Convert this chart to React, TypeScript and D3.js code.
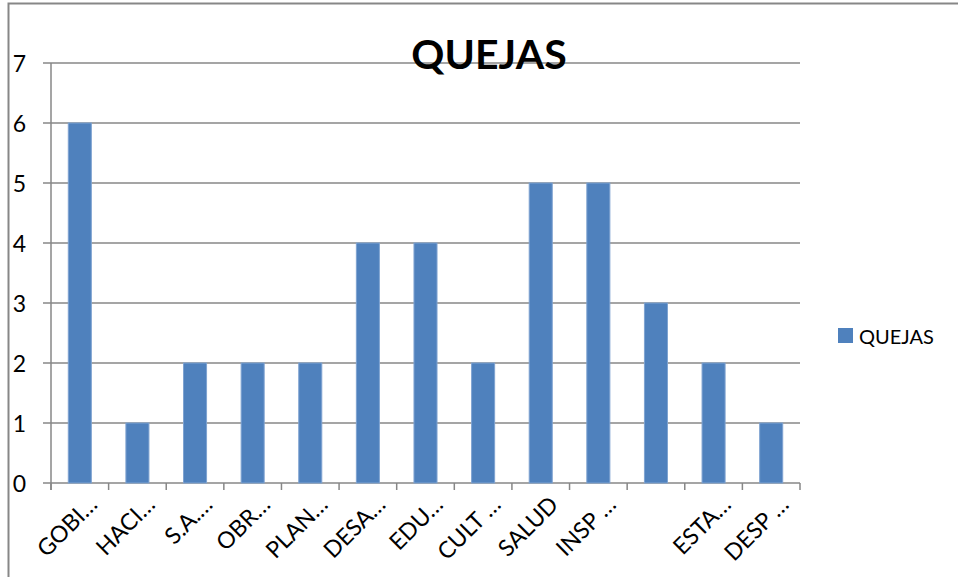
import React from "react";
import * as d3 from "d3";

const categories = ["GOBI…", "HACI…", "S.A.…", "OBR…", "PLAN…", "DESA…", "EDU…", "CULT …", "SALUD", "INSP …", "", "ESTA…", "DESP …"];
const values = [6, 1, 2, 2, 2, 4, 4, 2, 5, 5, 3, 2, 1];
const yTicks = [0, 1, 2, 3, 4, 5, 6, 7];
const seriesName = "QUEJAS";
const title = "QUEJAS";

const W = 958, H = 577;
const plot = { left: 51, right: 800, top: 63, bottom: 483 };
const FONT = "Lato, 'Open Sans', sans-serif";
const GRID = "#878787";
const BAR = "#4f81bd";

export default function App() {
  const x = d3.scaleBand<number>().domain(d3.range(categories.length)).range([plot.left, plot.right]).paddingInner(0.6).paddingOuter(0.3);
  const step = (plot.right - plot.left) / categories.length;
  const y = d3.scaleLinear().domain([0, 7]).range([plot.bottom, plot.top]);

  return (
    <svg width={W} height={H} style={{ position: "absolute", left: 0, top: 0, background: "#fff" }}>
      <rect x={8.5} y={3.5} width={W + 10} height={H + 10} fill="#fff" stroke={GRID} strokeWidth={2} />
      {yTicks.map((t) => (
        <g key={t}>
          <line x1={plot.left - 8} x2={plot.right} y1={y(t)} y2={y(t)} stroke={GRID} strokeWidth={1.5} />
          <text x={26} y={y(t)} textAnchor="end" dominantBaseline="central" fontFamily={FONT} fontSize={23} fill="#000">{t}</text>
        </g>
      ))}
      <line x1={plot.left} x2={plot.left} y1={plot.top} y2={plot.bottom + 7} stroke={GRID} strokeWidth={1.5} />
      {d3.range(categories.length + 1).map((i) => (
        <line key={i} x1={plot.left + step * i} x2={plot.left + step * i} y1={plot.bottom} y2={plot.bottom + 7} stroke={GRID} strokeWidth={1.5} />
      ))}
      {values.map((v, i) => (
        <rect key={i} x={x(i)} y={y(v)} width={x.bandwidth()} height={y(0) - y(v)} fill={BAR} stroke="#7fa3d1" strokeWidth={1} />
      ))}
      {categories.map((c, i) => {
        const cx = plot.left + step * (i + 0.5) + 19;
        const cy = 506;
        return (
          <text key={i} x={cx} y={cy} transform={`rotate(-45 ${cx} ${cy})`} textAnchor="end" fontFamily={FONT} fontSize={23} fill="#000">{c}</text>
        );
      })}
      <text x={489} y={69} textAnchor="middle" fontFamily={FONT} fontWeight="bold" fontSize={41} fill="#000">{title}</text>
      <rect x={838} y={328} width={15} height={15} fill={BAR} />
      <text x={859} y={335.5} dominantBaseline="central" fontFamily={FONT} fontSize={20} fill="#000">{seriesName}</text>
    </svg>
  );
}
